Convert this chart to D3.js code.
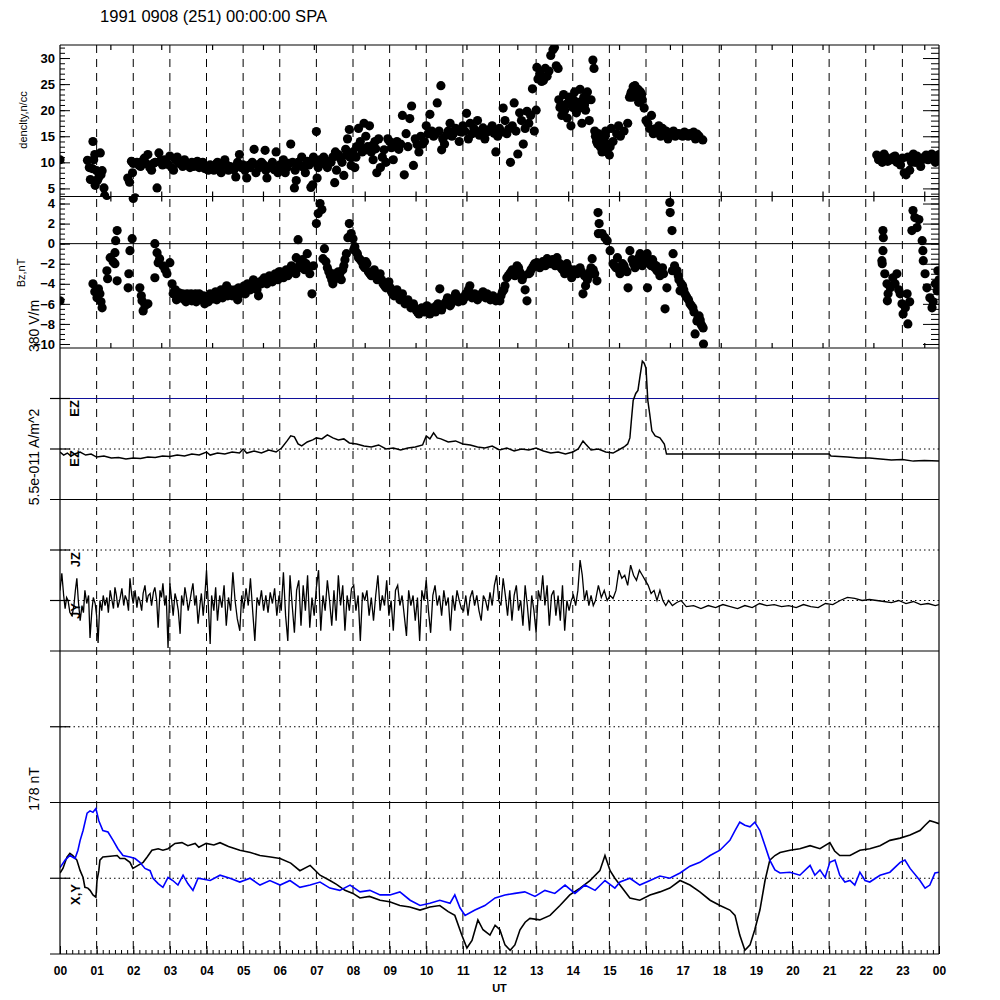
<!DOCTYPE html>
<html>
<head>
<meta charset="utf-8">
<script src="https://cdn.jsdelivr.net/npm/d3@7"></script>
<style>
  body { margin: 0; background: #fff; }
  text { font-family: "Liberation Sans", Arial, sans-serif; }
</style>
</head>
<body>
<svg id="chart" width="1000" height="1000"></svg>
<script>
// ---- data (hours UT, value) ----
const title = "1991 0908 (251) 00:00:00 SPA";
const hourLabels = ["00","01","02","03","04","05","06","07","08","09","10","11",
                    "12","13","14","15","16","17","18","19","20","21","22","23","00"];
const densityTicks = [5, 10, 15, 20, 25, 30];
const bzTicks = [4, 2, 0, -2, -4, -6, -8, -10];

const density = [
  [0.00,10.5],[0.75,10.4],[0.80,9.0],[0.83,6.7],[0.88,8.8],[0.90,14.0],[0.92,10.5],[0.95,11.5],[0.96,5.6],[1.00,8.4],[1.02,6.5],[1.05,7.0],[1.10,11.8],[1.12,7.6],[1.15,8.4],[1.20,5.1],[1.22,3.6],
  [1.85,7.0],[1.90,6.2],[1.95,10.2],[1.98,8.0],[2.00,9.8],[2.05,3.2],
  [2.10,10.0],[2.20,9.2],[2.30,10.8],[2.40,11.5],[2.45,9.0],[2.50,8.5],[2.60,10.0],[2.65,5.1],[2.70,11.8],[2.80,9.5],[2.85,10.5],[2.90,10.0],[3.00,11.2],[3.05,9.0],[3.10,8.5],[3.15,10.5],[3.20,11.0],[3.30,10.0],[3.35,9.2],[3.40,10.5],[3.50,9.5],[3.55,9.0],[3.60,10.0],[3.70,9.5],[3.80,9.0],[3.90,10.0],
  [2.15,9.5],[2.25,10.2],[2.35,9.8],[2.55,9.8],[2.75,10.4],[2.95,9.6],[3.25,9.8],[3.45,9.8],[3.65,9.2],[3.75,10.2],[3.85,9.4],[3.95,8.8],
  [4.00,9.0],[4.05,8.5],[4.10,9.5],[4.20,8.5],[4.30,10.0],[4.35,9.0],[4.40,8.0],[4.50,10.5],[4.55,9.5],[4.60,8.5],[4.70,9.0],[4.80,7.2],[4.85,10.0],[4.90,11.5],[5.00,9.5],[5.05,8.5],[5.10,7.0],[5.20,9.0],[5.25,10.0],[5.30,12.5],[5.35,8.0],[5.40,9.5],[5.50,10.0],[5.60,12.3],[5.62,8.5],[5.65,7.0],[5.70,9.0],[5.80,10.0],[5.90,12.0],[5.95,8.0],
  [4.15,9.2],[4.25,9.6],[4.45,9.4],[4.65,9.2],[4.75,8.6],[4.95,9.0],[5.15,9.4],[5.45,9.0],[5.55,9.6],[5.75,9.4],[5.85,8.6],
  [6.00,9.5],[6.10,10.5],[6.15,8.0],[6.20,9.0],[6.30,13.5],[6.35,10.0],[6.40,5.1],[6.42,8.5],[6.45,6.5],[6.50,10.0],[6.60,11.0],[6.70,8.0],[6.80,9.5],[6.85,5.2],[6.90,5.7],[6.92,11.0],[6.95,10.0],[7.00,15.9],[7.02,7.0],[7.05,9.0],[7.10,10.5],[7.20,11.0],[7.30,9.0],[7.40,10.0],[7.50,6.1],[7.52,12.0],[7.55,8.5],[7.60,11.5],[7.70,10.0],[7.75,7.5],[7.80,12.5],[7.85,14.5],[7.90,16.3],[7.92,11.0],[7.95,9.4],
  [6.05,9.2],[6.25,9.8],[6.55,9.4],[6.65,9.0],[6.75,10.2],[7.15,9.8],[7.25,10.4],[7.35,10.0],[7.45,11.0],[7.65,10.8],[7.82,11.4],
  [8.00,12.0],[8.05,9.0],[8.10,13.0],[8.15,16.5],[8.20,14.0],[8.25,12.0],[8.30,17.5],[8.35,15.0],[8.40,13.0],[8.45,17.0],[8.50,12.0],[8.55,10.5],[8.60,14.0],[8.65,8.0],[8.70,14.5],[8.75,9.0],[8.80,11.0],[8.90,10.0],[8.95,14.5],[9.00,14.0],[9.10,10.5],[9.20,14.0],[9.25,12.5],[9.30,13.5],[9.35,19.0],[9.40,7.6],[9.45,15.5],[9.50,13.0],[9.55,18.4],[9.60,20.8],[9.65,9.4],[9.70,14.5],[9.80,12.0],[9.85,15.0],[9.90,13.5],
  [8.08,11.0],[8.22,12.8],[8.38,12.4],[8.52,13.2],[8.62,12.6],[8.85,12.4],[9.05,12.8],[9.15,13.0],[9.75,13.4],[9.95,14.0],
  [10.00,17.0],[10.05,15.5],[10.10,19.2],[10.15,16.0],[10.20,15.0],[10.30,21.4],[10.35,16.0],[10.40,24.7],[10.42,12.4],[10.45,14.5],[10.50,13.5],[10.60,16.0],[10.65,17.5],[10.70,15.0],[10.80,16.5],[10.90,14.0],[11.00,17.0],[11.05,16.0],[11.10,19.4],[11.15,14.5],[11.20,17.5],[11.25,15.5],[11.30,16.5],[11.40,18.0],[11.50,16.0],[11.60,14.5],[11.70,16.0],[11.80,17.0],[11.90,12.0],[11.95,15.0],
  [10.25,15.4],[10.55,15.2],[10.75,15.6],[10.95,15.8],[11.35,16.0],[11.45,15.2],[11.55,16.6],[11.65,15.8],[11.75,16.4],[11.85,15.6],
  [12.00,16.5],[12.10,20.4],[12.15,18.0],[12.20,15.5],[12.30,10.0],[12.35,17.0],[12.40,21.4],[12.45,16.0],[12.50,11.6],[12.55,19.5],[12.60,18.0],[12.65,13.5],[12.70,16.5],[12.75,19.8],[12.80,17.5],[12.85,19.0],[12.90,24.1],[12.95,16.0],[13.00,20.0],[13.02,28.2],[13.05,26.0],[13.10,27.0],[13.15,25.5],[13.20,25.7],[13.25,28.0],[13.30,26.5],[13.35,27.5],[13.40,30.5],[13.46,31.6],[13.50,32.0],[13.55,28.5],[13.60,28.0],
  [12.05,15.8],[12.25,16.4],
  [13.62,22.0],[13.65,20.5],[13.70,19.0],[13.75,23.0],[13.80,21.0],[13.85,18.5],[13.90,22.5],[13.95,17.0],[14.00,20.5],[14.05,23.5],[14.10,19.5],[14.15,21.5],[14.20,24.0],[14.25,17.5],[14.30,22.5],[14.35,20.0],[14.40,23.5],[14.45,18.0],[14.50,22.0],[14.55,29.6],[14.58,28.0],
  [13.68,21.0],[13.78,20.0],[13.88,21.5],[14.02,22.0],[14.12,21.0],[14.22,20.5],[14.32,21.0],[14.42,22.0],
  [14.60,16.0],[14.65,14.0],[14.70,15.5],[14.75,13.0],[14.80,12.0],[14.85,14.5],[14.90,16.0],[14.95,13.5],[15.00,11.4],[15.05,16.5],[15.10,14.0],[15.20,15.5],[15.25,17.0],[15.30,15.0],[15.40,16.0],[15.50,17.5],[15.55,22.5],[15.60,23.5],[15.65,24.5],[15.70,24.7],[15.75,23.0],[15.80,21.5],[15.85,23.5],[15.90,22.0],[15.95,20.4],
  [14.62,15.0],[14.68,13.5],[14.72,14.5],[14.78,12.8],[14.82,13.8],[14.88,15.0],[14.92,12.5],[15.02,13.0],
  [15.58,23.0],[15.62,22.5],[15.68,23.8],[15.72,22.6],[15.78,24.0],[15.82,22.8],[15.88,23.0],
  [16.00,18.0],[16.05,17.5],[16.10,16.5],[16.15,19.0],[16.20,15.5],[16.30,16.0],[16.35,17.0],[16.40,15.0],[16.45,16.5],[16.50,15.5],[16.55,16.0],[16.60,14.5],[16.70,15.5],[16.80,15.0],[16.90,15.5],[17.00,15.0],[17.10,15.5],[17.20,15.5],[17.30,15.8],[17.35,14.5],[17.45,15.0],[17.55,14.3],
  [16.25,16.4],[16.65,15.6],[16.75,16.0],[16.85,15.4],[16.95,15.2],[17.05,15.8],[17.15,15.0],[17.25,15.2],[17.40,15.4],
  [22.30,11.4],[22.35,10.5],[22.45,10.0],[22.55,11.0],[22.60,10.2],[22.70,10.5],[22.80,11.2],[22.85,10.0],[22.95,9.5],[23.00,10.8],[23.05,8.0],[23.10,7.6],[23.15,11.0],[23.20,8.5],[23.30,11.6],[23.35,10.0],[23.45,10.4],[23.50,9.2],[23.60,11.0],[23.70,10.5],[23.80,11.6],[23.90,10.0],[24.00,11.5],
  [22.40,11.0],[22.50,11.6],[22.65,10.6],[22.75,11.0],[22.90,10.4],[23.25,10.0],[23.40,11.2],[23.55,10.6],[23.65,11.4],[23.75,11.0],[23.85,10.8],[23.95,11.2]
];

const bz = [
  [0.00,-5.7],
  [0.90,-4.0],[0.95,-4.8],[1.01,-5.4],[1.05,-4.5],[1.09,-5.0],[1.12,-5.8],[1.15,-6.4],[1.28,-2.7],[1.30,-3.5],[1.37,-1.4],[1.45,-1.8],[1.50,-0.9],[1.52,0.3],[1.56,1.3],[1.50,-2.0],[1.56,-3.7],[1.28,4.8],
  [1.86,-4.4],[1.88,-3.0],[1.91,-0.7],[1.97,0.5],[2.00,4.5],
  [2.18,-4.4],[2.22,-5.2],[2.24,-5.7],[2.27,-6.7],[2.32,-6.2],[2.40,-6.0],
  [2.59,0.0],[2.65,-0.9],[2.68,-1.9],[2.59,-3.4],[2.72,-1.5],[2.81,-2.2],[2.87,-2.6],[2.92,-3.0],[3.00,-1.9],[3.06,-4.0],[3.09,-5.0],[3.15,-4.6],[3.22,-5.2],[3.28,-5.4],[3.35,-5.0],[3.40,-5.6],[3.47,-5.0],[3.55,-5.4],[3.60,-5.7],[3.66,-5.2],[3.72,-5.8],[3.80,-5.0],[3.88,-5.6],[3.95,-6.0],
  [3.12,-4.8],[3.18,-5.6],[3.25,-4.9],[3.32,-5.4],[3.38,-5.2],[3.44,-5.8],[3.52,-5.2],[3.58,-5.0],[3.63,-5.5],[3.70,-5.0],[3.76,-5.4],[3.84,-5.3],[3.92,-5.2],[3.98,-5.6],
  [4.02,-5.4],[4.10,-5.0],[4.18,-5.5],[4.25,-4.8],[4.32,-5.3],[4.40,-4.6],[4.48,-5.0],[4.55,-4.2],[4.62,-4.8],[4.70,-5.2],[4.78,-4.6],[4.85,-5.6],[4.92,-5.0],[5.00,-4.4],[5.06,-5.0],[5.12,-4.0],[5.20,-4.6],[5.28,-3.6],[5.35,-4.2],[5.42,-5.2],[5.50,-4.0],[5.58,-3.4],[5.65,-4.0],[5.72,-3.2],[5.80,-3.8],[5.88,-3.0],[5.95,-3.6],
  [4.05,-5.8],[4.14,-5.4],[4.22,-5.0],[4.28,-5.6],[4.36,-5.0],[4.44,-5.4],[4.52,-4.8],[4.58,-5.2],[4.66,-4.6],[4.74,-5.0],[4.82,-5.0],[4.88,-4.4],[4.96,-4.8],[5.03,-4.2],[5.09,-4.6],[5.16,-4.4],[5.24,-4.0],[5.32,-3.8],[5.38,-4.6],[5.46,-3.8],[5.54,-3.6],[5.62,-3.8],[5.68,-3.4],[5.76,-3.6],[5.84,-3.2],[5.92,-3.4],[5.98,-2.8],
  [6.02,-2.8],[6.10,-3.4],[6.18,-2.6],[6.25,-3.0],[6.32,-2.2],[6.40,-2.8],[6.45,-1.4],[6.50,0.4],[6.55,-2.0],[6.62,-1.6],[6.68,-2.6],[6.75,-1.0],[6.82,-3.0],[6.88,-5.0],[6.92,-2.2],[7.00,2.0],[7.05,3.0],[7.10,4.0],[7.15,3.4],[7.18,-1.5],[7.22,-0.5],[7.30,-2.4],[7.38,-3.2],[7.45,-4.0],[7.52,-3.5],[7.60,-2.8],[7.68,-3.6],[7.75,-2.2],[7.82,-1.0],[7.90,2.0],[7.95,1.0],
  [6.06,-3.0],[6.14,-2.8],[6.22,-3.2],[6.28,-2.6],[6.36,-2.4],[6.44,-3.0],[6.58,-2.4],[6.66,-2.0],[6.72,-2.0],[6.78,-2.4],[7.26,-1.8],[7.34,-2.8],[7.42,-3.6],[7.48,-3.0],[7.56,-3.2],[7.64,-3.0],[7.72,-2.6],[7.78,-1.6],[7.86,0.6],
  [8.00,0.5],[8.05,-0.3],[8.12,-1.0],[8.20,-1.6],[8.28,-2.2],[8.35,-1.8],[8.42,-2.8],[8.50,-3.2],[8.58,-2.6],[8.66,-3.6],[8.74,-3.0],[8.82,-4.0],[8.90,-4.4],[8.98,-3.8],[9.05,-4.8],[9.12,-5.2],[9.20,-4.6],[9.28,-5.6],[9.35,-5.0],[9.42,-6.0],[9.50,-5.6],[9.58,-6.4],[9.65,-6.0],[9.72,-6.6],[9.80,-7.0],[9.88,-6.4],[9.95,-6.8],
  [8.02,-0.6],[8.08,-0.8],[8.15,-1.4],[8.24,-1.8],[8.32,-2.4],[8.38,-2.0],[8.46,-3.0],[8.54,-2.8],[8.62,-3.2],[8.70,-3.4],[8.78,-3.6],[8.86,-4.2],[8.94,-4.0],[9.02,-4.4],[9.08,-5.0],[9.16,-4.8],[9.24,-5.2],[9.32,-5.4],[9.38,-5.6],[9.46,-5.8],[9.54,-6.0],[9.62,-6.2],[9.68,-6.4],[9.76,-6.8],[9.84,-6.6],[9.92,-6.6],[9.98,-6.4],
  [10.02,-6.2],[10.10,-7.0],[10.18,-6.4],[10.25,-6.8],[10.32,-6.0],[10.37,-4.5],[10.42,-6.6],[10.50,-6.0],[10.58,-5.4],[10.65,-6.2],[10.72,-5.6],[10.80,-5.0],[10.88,-5.8],[10.95,-5.4],[11.00,-5.7],[11.08,-5.0],[11.15,-4.6],[11.19,-4.2],[11.25,-5.4],[11.32,-5.0],[11.40,-5.6],[11.48,-5.2],[11.55,-4.8],[11.62,-5.4],[11.66,-5.0],[11.75,-5.6],[11.82,-5.2],[11.90,-5.7],
  [10.06,-6.6],[10.14,-6.8],[10.22,-6.6],[10.28,-6.2],[10.46,-6.2],[10.54,-5.8],[10.62,-5.8],[10.68,-6.0],[10.76,-5.4],[10.84,-5.6],[10.92,-5.6],[11.04,-5.4],[11.12,-5.2],[11.22,-5.0],[11.28,-5.2],[11.36,-5.4],[11.44,-5.2],[11.52,-5.0],[11.58,-5.2],[11.70,-5.4],[11.78,-5.4],[11.86,-5.4],[11.95,-5.5],
  [12.01,-5.7],[12.08,-4.8],[12.15,-4.2],[12.20,-3.4],[12.28,-3.0],[12.35,-2.6],[12.42,-3.2],[12.48,-2.2],[12.55,-2.8],[12.62,-3.6],[12.70,-4.6],[12.75,-5.7],[12.80,-3.0],[12.83,-2.9],[12.90,-2.4],[12.96,-2.0],[13.02,-1.9],[13.10,-2.4],[13.18,-1.8],[13.25,-2.2],[13.30,-1.5],[13.38,-2.0],[13.45,-1.6],[13.52,-2.2],[13.57,-1.4],[13.65,-2.0],[13.72,-2.6],[13.78,-3.0],[13.84,-2.0],[13.90,-2.8],[13.97,-3.4],
  [12.04,-5.2],[12.12,-4.6],[12.24,-3.2],[12.32,-2.8],[12.38,-2.8],[12.45,-2.6],[12.52,-2.4],[12.58,-3.0],[12.66,-3.2],[12.86,-2.6],[12.93,-2.2],[12.99,-2.2],[13.06,-2.0],[13.14,-2.2],[13.22,-2.0],[13.28,-1.8],[13.34,-1.8],[13.42,-1.8],[13.48,-2.0],[13.55,-1.8],[13.60,-2.2],[13.68,-2.4],[13.75,-2.2],[13.81,-2.4],[13.87,-2.4],[13.94,-2.6],
  [14.05,-2.6],[14.12,-3.0],[14.20,-2.4],[14.28,-5.0],[14.35,-4.2],[14.40,-3.6],[14.47,-2.8],[14.53,-1.5],[14.60,-3.0],[14.66,-3.7],[14.69,3.1],[14.72,2.0],[14.70,1.0],[14.80,1.0],[14.88,0.6],[14.94,0.3],[15.02,-0.7],[15.10,-2.0],[15.18,-2.4],[15.22,-1.4],[15.29,-3.0],[15.36,-2.0],[15.44,-2.6],[15.51,-4.4],[15.56,-0.7],[15.62,-1.6],[15.70,-2.4],[15.77,-1.8],[15.84,-1.0],[15.90,-2.2],[15.96,-1.4],
  [14.00,-3.0],[14.08,-2.8],[14.16,-2.6],[14.24,-2.8],[14.32,-3.2],[14.44,-3.2],[14.50,-2.4],[14.56,-2.6],[15.14,-2.2],[15.26,-2.6],[15.32,-2.4],[15.40,-2.2],[15.48,-2.8],[15.66,-2.0],[15.74,-2.0],[15.80,-1.4],[15.87,-1.8],[15.93,-1.8],
  [16.03,-1.0],[16.04,-4.4],[16.10,-2.0],[16.18,-1.6],[16.24,-2.4],[16.30,-2.7],[16.38,-3.2],[16.45,-2.4],[16.52,-6.5],[16.57,-4.4],[16.65,4.1],[16.66,3.1],[16.71,1.3],[16.74,-1.0],[16.72,-2.7],[16.78,-2.2],[16.85,-2.7],[16.90,-3.6],[16.93,-4.7],[17.00,-4.2],[17.06,-5.0],[17.12,-5.4],[17.20,-6.0],[17.28,-6.4],[17.34,-9.0],[17.39,-7.7],[17.45,-7.2],[17.50,-8.0],[17.56,-8.4],[17.57,-10.0],
  [16.00,-1.6],[16.07,-1.8],[16.14,-2.2],[16.21,-2.0],[16.28,-2.2],[16.34,-2.8],[16.41,-2.8],[16.48,-3.0],[16.81,-2.6],[16.88,-3.2],[16.96,-4.0],[17.03,-4.6],[17.09,-5.2],[17.16,-5.6],[17.24,-6.2],[17.31,-6.8],[17.42,-7.4],[17.48,-7.6],[17.53,-8.2],
  [22.44,-1.7],[22.45,-2.0],[22.47,1.3],[22.48,0.6],[22.47,-0.7],[22.52,-3.0],[22.58,-4.0],[22.59,-5.7],[22.61,-5.0],[22.67,-4.4],[22.74,-3.4],[22.80,-4.0],[22.85,-3.0],[22.90,-4.6],[22.94,-5.0],[22.99,-6.0],[23.02,-7.0],[23.08,-6.4],[23.13,-5.0],[23.15,-8.0],[23.20,-5.8],
  [23.26,1.3],[23.29,3.3],[23.34,2.6],[23.40,1.6],[23.45,2.4],[23.54,0.3],[23.56,-0.7],[23.57,-1.7],[23.62,-3.0],[23.67,-4.4],[23.75,-5.4],[23.81,-6.4],[23.84,-5.8],[23.90,-4.0],[23.95,-4.7],[23.97,-2.7],[24.00,-3.6]
];

// EZ, in units of one scale step (380 V/m)
const ez = [
  [0.00,-0.06],[0.10,-0.12],[0.20,-0.08],[0.30,-0.14],[0.40,-0.10],[0.55,-0.06],[0.70,-0.12],[0.85,-0.10],[1.00,-0.16],[1.20,-0.14],[1.40,-0.18],[1.60,-0.17],[1.80,-0.20],
  [2.00,-0.18],[2.20,-0.19],[2.40,-0.16],[2.60,-0.17],[2.80,-0.14],[3.00,-0.15],[3.20,-0.12],[3.40,-0.14],[3.60,-0.10],[3.80,-0.12],[4.00,-0.06],[4.10,-0.12],[4.30,-0.08],[4.50,-0.10],[4.70,-0.06],[4.90,-0.08],
  [5.00,0.00],[5.10,-0.08],[5.30,-0.04],[5.50,-0.08],[5.70,-0.02],[5.90,-0.06],[6.05,0.02],[6.20,0.16],[6.30,0.26],[6.40,0.24],[6.50,0.10],[6.60,0.06],[6.75,0.14],[6.90,0.18],
  [7.00,0.22],[7.15,0.20],[7.30,0.28],[7.45,0.22],[7.60,0.18],[7.75,0.20],[7.90,0.12],[8.10,0.10],[8.30,0.06],[8.50,0.04],[8.70,0.08],[8.90,0.00],[9.10,0.02],[9.30,-0.02],[9.50,0.02],[9.70,0.04],[9.90,0.08],
  [10.00,0.26],[10.10,0.20],[10.20,0.32],[10.30,0.22],[10.40,0.20],[10.60,0.14],[10.80,0.16],[11.00,0.10],[11.20,0.08],[11.40,0.04],[11.60,0.02],[11.80,0.06],[12.00,-0.02],[12.20,0.02],[12.40,-0.04],[12.60,0.00],[12.80,-0.02],
  [13.00,0.02],[13.20,-0.04],[13.40,-0.08],[13.60,-0.06],[13.80,-0.10],[14.00,-0.06],[14.15,0.00],[14.28,0.16],[14.35,0.10],[14.50,-0.02],[14.70,0.00],[14.90,-0.06],[15.10,-0.08],[15.25,-0.02],[15.40,0.04],[15.50,0.10],
  [15.56,0.22],[15.60,0.56],[15.65,0.96],[15.72,1.10],[15.78,1.16],[15.84,1.46],[15.90,1.74],[15.95,1.70],[16.00,1.60],[16.05,0.96],[16.10,0.70],[16.16,0.36],[16.25,0.26],[16.38,0.22],[16.50,0.10],[16.56,-0.10],
  [21.00,-0.10],[21.05,-0.14],[21.50,-0.16],[21.80,-0.18],[22.10,-0.18],[22.40,-0.20],[22.70,-0.22],[23.00,-0.21],[23.30,-0.24],[23.60,-0.23],[24.00,-0.24]
];
const ezBlue = [[0, 1], [24, 1]];

// JZ, in units of one scale step (5.5e-011 A/m^2)
const jz = [
  [0.00,0.20],[0.05,0.54],[0.10,0.10],[0.14,-0.16],[0.18,0.06],[0.22,0.00],[0.27,-0.24],[0.33,-0.30],[0.38,-0.10],[0.42,0.20],[0.46,0.44],[0.50,0.00],[0.55,-0.40],[0.60,-0.10],[0.64,-0.24],[0.68,0.20],[0.73,-0.06],[0.78,0.10],[0.82,-0.74],[0.87,-0.20],[0.91,0.06],[0.96,-0.06],
  [1.00,-0.30],[1.04,-0.84],[1.09,0.00],[1.14,-0.20],[1.18,0.10],[1.23,-0.10],[1.28,0.06],[1.32,-0.24],[1.37,0.20],[1.42,0.00],[1.46,-0.16],[1.50,0.26],[1.54,0.10],[1.58,-0.14],[1.64,0.04],[1.69,0.24],[1.74,-0.10],[1.78,0.10],[1.83,0.00],[1.87,-0.20],[1.91,0.44],[1.96,0.10],
  [2.00,-0.06],[2.05,0.20],[2.10,-0.14],[2.14,0.08],[2.18,0.00],[2.23,-0.20],[2.27,0.14],[2.32,0.30],[2.37,-0.04],[2.41,0.10],[2.46,0.14],[2.50,-0.10],[2.55,0.16],[2.59,0.26],[2.64,0.00],[2.68,-0.54],[2.73,0.20],[2.77,0.06],[2.81,0.34],[2.86,-0.10],[2.90,0.10],[2.95,-0.94],
  [3.00,0.34],[3.05,0.00],[3.09,-0.30],[3.14,0.14],[3.18,0.02],[3.23,-0.20],[3.28,-0.66],[3.32,0.10],[3.37,-0.10],[3.41,0.26],[3.46,0.04],[3.50,-0.20],[3.55,0.00],[3.59,0.18],[3.63,0.34],[3.68,-0.10],[3.72,0.10],[3.77,-0.46],[3.82,-0.10],[3.86,0.14],[3.91,-0.30],[3.95,0.04],
  [4.00,0.60],[4.05,-0.10],[4.10,-0.86],[4.14,0.10],[4.20,-0.20],[4.25,0.26],[4.30,-0.40],[4.36,0.10],[4.42,-0.14],[4.48,0.30],[4.54,-0.50],[4.60,0.06],[4.66,-0.20],[4.72,0.56],[4.78,0.00],[4.84,-0.36],[4.91,-0.60],[4.96,0.10],
  [5.02,-0.16],[5.08,0.24],[5.14,-0.10],[5.20,0.44],[5.26,-0.20],[5.32,-0.80],[5.38,0.06],[5.44,-0.10],[5.50,0.20],[5.56,-0.20],[5.62,0.10],[5.68,-0.24],[5.74,0.16],[5.80,-0.06],[5.86,0.24],[5.92,-0.30],[5.98,0.10],
  [6.04,-0.20],[6.10,0.56],[6.16,-0.30],[6.22,-0.80],[6.28,0.50],[6.34,-0.10],[6.40,-0.64],[6.46,0.20],[6.52,0.40],[6.58,-0.50],[6.64,0.30],[6.70,-0.20],[6.76,0.50],[6.82,-0.54],[6.88,0.06],[6.94,-0.30],
  [7.00,0.26],[7.06,0.60],[7.12,-0.60],[7.18,0.10],[7.24,-0.20],[7.30,0.40],[7.36,0.00],[7.42,-0.50],[7.48,0.20],[7.54,-0.40],[7.60,0.50],[7.66,-0.10],[7.72,0.30],[7.78,-0.60],[7.84,0.10],[7.90,-0.20],[7.96,0.24],
  [8.02,0.30],[8.08,-0.20],[8.14,0.10],[8.20,-0.80],[8.26,0.16],[8.32,0.00],[8.38,0.20],[8.44,-0.30],[8.50,0.06],[8.56,-0.40],[8.62,0.10],[8.68,0.50],[8.74,-0.20],[8.80,0.10],[8.86,-0.10],[8.92,0.40],[8.98,-0.30],
  [9.04,0.00],[9.10,-0.60],[9.16,0.20],[9.22,0.30],[9.28,-0.10],[9.34,0.10],[9.40,-0.30],[9.46,-0.70],[9.52,0.20],[9.58,-0.10],[9.64,0.10],[9.70,-0.40],[9.76,0.06],[9.82,-0.80],[9.88,0.20],[9.94,0.00],
  [10.00,0.40],[10.06,-0.20],[10.12,-0.64],[10.18,0.10],[10.24,0.30],[10.30,-0.10],[10.36,0.10],[10.42,-0.30],[10.48,0.20],[10.54,-0.10],[10.60,0.06],[10.66,-0.60],[10.72,0.10],[10.78,-0.20],[10.84,0.20],[10.90,0.00],[10.96,-0.16],
  [11.02,-0.20],[11.08,0.10],[11.14,-0.30],[11.20,0.06],[11.26,0.20],[11.32,-0.10],[11.38,0.10],[11.44,-0.20],[11.50,-0.40],[11.56,0.10],[11.62,0.00],[11.68,-0.20],[11.74,0.16],[11.80,-0.10],[11.86,0.30],[11.92,0.50],[11.98,0.00],
  [12.04,-0.10],[12.10,0.44],[12.16,0.10],[12.22,-0.30],[12.28,0.20],[12.34,-0.40],[12.40,0.10],[12.46,0.30],[12.52,-0.20],[12.58,0.00],[12.64,-0.50],[12.70,0.30],[12.76,-0.10],[12.82,-0.60],[12.88,0.10],[12.94,-0.20],
  [13.00,-0.64],[13.06,0.20],[13.12,0.00],[13.18,0.50],[13.24,-0.10],[13.30,0.30],[13.36,-0.50],[13.42,0.10],[13.48,0.20],[13.54,-0.30],[13.60,0.10],[13.66,-0.40],[13.72,0.30],[13.78,-0.60],[13.84,0.00],[13.90,-0.20],[13.96,0.00],
  [14.02,0.10],[14.08,-0.10],[14.14,0.20],[14.20,0.80],[14.26,0.50],[14.32,0.00],[14.38,0.20],[14.44,-0.10],[14.50,0.10],[14.56,-0.10],[14.62,0.00],[14.70,0.30],[14.78,0.06],[14.86,0.20],[14.94,0.00],
  [15.02,0.10],[15.10,0.04],[15.18,0.20],[15.26,0.60],[15.34,0.44],[15.42,0.50],[15.50,0.30],[15.58,0.70],[15.66,0.50],[15.74,0.40],[15.82,0.60],[15.90,0.50],[15.98,0.40],
  [16.06,0.30],[16.14,0.14],[16.22,0.20],[16.30,0.00],[16.38,0.20],[16.46,0.00],[16.54,-0.10],[16.62,0.00],[16.72,-0.10],[16.84,-0.04],[16.96,0.00],
  [17.10,-0.12],[17.30,-0.10],[17.50,-0.16],[17.70,-0.10],[17.90,-0.14],[18.10,-0.08],[18.30,-0.12],[18.50,-0.16],[18.70,-0.10],[18.90,-0.14],[19.10,-0.06],[19.30,-0.10],[19.50,-0.08],[19.70,-0.12],[19.90,-0.10],
  [20.10,-0.14],[20.30,-0.08],[20.50,-0.12],[20.70,-0.14],[20.90,-0.06],[21.10,-0.08],[21.30,0.00],[21.50,0.06],[21.70,0.04],[21.90,0.00],[22.10,0.02],[22.30,0.00],[22.50,-0.02],[22.70,-0.04],[22.90,0.00],
  [23.10,-0.06],[23.30,-0.02],[23.50,-0.08],[23.70,-0.06],[23.90,-0.10],[24.00,-0.08]
];

// X (black) and Y (blue), in units of half scale (178 nT)
const bx = [
  [0.00,0.07],[0.08,0.13],[0.19,0.28],[0.27,0.33],[0.35,0.30],[0.46,0.24],[0.55,0.10],[0.63,0.01],[0.68,-0.12],[0.76,-0.13],[0.82,-0.16],[0.90,-0.22],[0.98,-0.25],[1.01,-0.03],[1.06,0.10],[1.09,0.24],[1.17,0.28],[1.37,0.29],[1.56,0.30],[1.64,0.26],[1.77,0.26],[1.91,0.21],[1.99,0.13],
  [2.13,0.17],[2.27,0.21],[2.38,0.28],[2.51,0.37],[2.68,0.39],[2.81,0.37],[2.95,0.39],[3.14,0.46],[3.33,0.47],[3.49,0.43],[3.69,0.46],[3.79,0.41],[3.99,0.46],[4.20,0.44],[4.37,0.47],[4.60,0.42],[4.91,0.37],[5.20,0.34],[5.46,0.30],[5.75,0.28],
  [6.01,0.26],[6.30,0.20],[6.55,0.10],[6.83,0.17],[7.10,0.04],[7.37,-0.03],[7.55,-0.08],[7.78,-0.16],[8.00,-0.20],[8.19,-0.26],[8.45,-0.24],[8.74,-0.29],[9.00,-0.31],[9.28,-0.36],[9.55,-0.38],[9.83,-0.42],[10.10,-0.38],[10.37,-0.36],[10.60,-0.44],[10.78,-0.49],
  [10.97,-0.75],[11.11,-0.92],[11.25,-0.82],[11.41,-0.55],[11.55,-0.68],[11.74,-0.75],[11.88,-0.62],[12.01,-0.68],[12.15,-0.88],[12.29,-0.95],[12.42,-0.88],[12.56,-0.68],[12.70,-0.58],[12.83,-0.53],[13.10,-0.55],[13.38,-0.49],[13.65,-0.36],[13.92,-0.22],
  [14.20,-0.13],[14.47,-0.03],[14.74,0.10],[14.88,0.30],[15.02,0.10],[15.15,0.00],[15.29,-0.09],[15.56,-0.26],[15.83,-0.29],[16.11,-0.22],[16.38,-0.18],[16.65,-0.13],[16.93,-0.03],[17.20,-0.09],[17.47,-0.18],[17.75,-0.29],[18.02,-0.36],[18.29,-0.42],[18.43,-0.49],
  [18.56,-0.75],[18.70,-0.95],[18.84,-0.88],[18.97,-0.68],[19.11,-0.42],[19.25,-0.03],[19.38,0.24],[19.52,0.30],[19.66,0.34],[19.93,0.37],[20.20,0.39],[20.48,0.43],[20.75,0.39],[21.02,0.47],[21.15,0.36],[21.29,0.30],[21.57,0.30],[21.84,0.37],
  [22.11,0.39],[22.39,0.43],[22.66,0.50],[22.94,0.53],[23.21,0.57],[23.48,0.63],[23.62,0.70],[23.75,0.76],[23.89,0.74],[24.00,0.72]
];
const by = [
  [0.00,0.14],[0.14,0.24],[0.27,0.30],[0.41,0.26],[0.49,0.37],[0.55,0.50],[0.63,0.63],[0.74,0.86],[0.82,0.89],[0.90,0.87],[0.98,0.92],[1.06,0.76],[1.17,0.63],[1.31,0.61],[1.45,0.50],[1.58,0.39],[1.72,0.30],[1.91,0.28],
  [2.05,0.26],[2.18,0.21],[2.32,0.13],[2.46,0.10],[2.54,0.00],[2.68,-0.07],[2.81,-0.12],[2.95,0.01],[3.08,-0.03],[3.22,-0.09],[3.36,0.04],[3.49,-0.07],[3.63,-0.16],[3.77,0.00],[4.10,-0.03],[4.37,0.04],[4.64,0.00],[4.91,-0.05],
  [5.19,0.00],[5.46,-0.09],[5.73,-0.03],[6.01,-0.09],[6.28,-0.03],[6.55,-0.12],[6.83,-0.09],[7.10,-0.05],[7.37,-0.13],[7.64,-0.16],[7.92,-0.09],[8.19,-0.18],[8.46,-0.16],[8.74,-0.22],[9.01,-0.22],[9.28,-0.18],[9.56,-0.29],[9.83,-0.36],
  [10.10,-0.33],[10.37,-0.29],[10.65,-0.33],[10.78,-0.22],[10.92,-0.39],[11.06,-0.49],[11.33,-0.42],[11.60,-0.36],[11.88,-0.26],[12.15,-0.22],[12.42,-0.20],[12.69,-0.18],[12.97,-0.24],[13.24,-0.16],[13.51,-0.20],[13.79,-0.09],
  [14.06,-0.20],[14.33,-0.09],[14.61,-0.16],[14.88,-0.03],[15.15,-0.13],[15.29,-0.05],[15.56,0.00],[15.83,-0.09],[16.11,-0.03],[16.38,0.03],[16.65,0.00],[16.93,0.07],[17.20,0.16],[17.47,0.21],[17.75,0.30],[18.02,0.37],[18.29,0.50],[18.43,0.63],
  [18.56,0.74],[18.70,0.70],[18.84,0.68],[18.97,0.74],[19.11,0.63],[19.25,0.43],[19.38,0.24],[19.52,0.11],[19.66,0.07],[19.93,0.08],[20.20,0.04],[20.48,0.17],[20.61,0.04],[20.75,0.11],[20.89,0.01],[21.02,0.21],[21.16,0.24],[21.29,0.04],
  [21.43,-0.05],[21.57,-0.03],[21.70,-0.09],[21.84,0.08],[21.98,-0.03],[22.11,-0.05],[22.39,0.04],[22.66,0.08],[22.94,0.21],[23.07,0.24],[23.21,0.13],[23.48,-0.03],[23.62,-0.13],[23.75,-0.09],[23.89,0.07],[24.00,0.08]
];

// ---- layout ----
const svg = d3.select("#chart");
const left = 60, right = 939, top0 = 45, ph = 151.5;
const panelTop = i => top0 + i * ph;

const x = d3.scaleLinear().domain([0, 24]).range([left, right]);
const y1 = d3.scaleLinear().domain([3.45, 32.5]).range([panelTop(1), panelTop(0)]);
const y2 = d3.scaleLinear().domain([-10.4, 4.7]).range([panelTop(2), panelTop(1)]);
const y3 = d3.scaleLinear().domain([-1, 2]).range([panelTop(3), panelTop(2)]);
const y4 = d3.scaleLinear().domain([-1, 2]).range([panelTop(4), panelTop(3)]);
const y5 = d3.scaleLinear().domain([-1, 1]).range([panelTop(5), panelTop(4)]);
const y6 = d3.scaleLinear().domain([-1, 1]).range([panelTop(6), panelTop(5)]);

svg.append("rect").attr("width", 1000).attr("height", 1000).attr("fill", "#fff");

// clip paths, one per panel
const defs = svg.append("defs");
for (let i = 0; i < 6; i++) {
  defs.append("clipPath").attr("id", "clip" + i)
    .append("rect").attr("x", left).attr("y", panelTop(i))
    .attr("width", right - left).attr("height", ph);
}

// dashed hour lines
svg.append("g").selectAll("line").data(d3.range(1, 24)).join("line")
  .attr("x1", d => x(d)).attr("x2", d => x(d))
  .attr("y1", panelTop(0)).attr("y2", panelTop(6))
  .attr("stroke", "#000").attr("stroke-width", 1).attr("stroke-dasharray", "8,6");

// dotted reference lines
const dotted = [[y3, 1], [y3, 0], [y4, 1], [y4, 0], [y5, 0], [y6, 0]];
svg.append("g").selectAll("line").data(dotted).join("line")
  .attr("x1", left).attr("x2", right)
  .attr("y1", d => d[0](d[1])).attr("y2", d => d[0](d[1]))
  .attr("stroke", "#000").attr("stroke-width", 1).attr("stroke-dasharray", "1.5,3");

// Bz zero line
svg.append("line").attr("x1", left).attr("x2", right)
  .attr("y1", y2(0)).attr("y2", y2(0)).attr("stroke", "#000");

// scatter panels
svg.append("g").attr("clip-path", "url(#clip0)")
  .selectAll("circle").data(density).join("circle")
  .attr("cx", d => x(d[0])).attr("cy", d => y1(d[1])).attr("r", 4.6).attr("fill", "#000");
svg.append("g").attr("clip-path", "url(#clip1)")
  .selectAll("circle").data(bz).join("circle")
  .attr("cx", d => x(d[0])).attr("cy", d => y2(d[1])).attr("r", 4.6).attr("fill", "#000");

// line panels
function trace(data, ys, clip, color, width) {
  const line = d3.line().x(d => x(d[0])).y(d => ys(d[1]));
  svg.append("path").datum(data).attr("clip-path", `url(#clip${clip})`)
    .attr("d", line).attr("fill", "none").attr("stroke", color)
    .attr("stroke-width", width).attr("stroke-linejoin", "miter");
}
trace(ezBlue, y3, 2, "#10109a", 1.2);
trace(ez, y3, 2, "#000", 1.5);
trace(jz, y4, 3, "#000", 1.3);
trace(bx, y6, 5, "#000", 1.6);
trace(by, y6, 5, "#0000ff", 1.6);

// frames and separators
const frame = svg.append("g").attr("stroke", "#000").attr("stroke-width", 1.2);
frame.append("line").attr("x1", left).attr("x2", left).attr("y1", panelTop(0)).attr("y2", panelTop(6));
frame.append("line").attr("x1", right).attr("x2", right).attr("y1", panelTop(0)).attr("y2", panelTop(6));
d3.range(0, 7).forEach(i => {
  frame.append("line").attr("x1", i >= 3 ? 50 : left).attr("x2", right)
    .attr("y1", panelTop(i)).attr("y2", panelTop(i));
});

// left ticks for the line panels
const sideTicks = [[y3, 1], [y3, 0], [y4, 1], [y4, 0], [y5, 0], [y6, 0]];
frame.selectAll(".side").data(sideTicks).join("line").attr("class", "side")
  .attr("x1", 50).attr("x2", 70)
  .attr("y1", d => d[0](d[1])).attr("y2", d => d[0](d[1]));

// seconds ticks (every 5000 s) on the scatter panels
const secTicks = d3.range(5000, 86400, 5000).map(s => s / 3600);
[[panelTop(0), 5], [panelTop(1), -5], [panelTop(1), 5], [panelTop(2), -5]].forEach(([yy, len]) => {
  frame.append("g").selectAll("line").data(secTicks).join("line")
    .attr("x1", d => x(d)).attr("x2", d => x(d)).attr("y1", yy).attr("y2", yy + len);
});

// y axes for scatter panels
function yAxes(ys, major, minor) {
  const gl = svg.append("g").attr("transform", `translate(${left},0)`);
  gl.call(d3.axisLeft(ys).tickValues(major).tickSize(-10).tickPadding(5).tickFormat(d3.format("d")));
  gl.append("g").call(d3.axisLeft(ys).tickValues(minor).tickSize(-5).tickFormat(""));
  const gr = svg.append("g").attr("transform", `translate(${right},0)`);
  gr.call(d3.axisRight(ys).tickValues(major).tickSize(-16).tickFormat(""));
  gr.append("g").call(d3.axisRight(ys).tickValues(minor).tickSize(-8).tickFormat(""));
  [gl, gr].forEach(g => {
    g.selectAll(".domain").remove();
    g.selectAll("line").attr("stroke", "#000");
    g.selectAll("text").attr("font-size", 13).attr("font-weight", "bold").attr("fill", "#000");
  });
}
yAxes(y1, densityTicks, d3.range(4, 33, 1));
yAxes(y2, bzTicks, d3.range(-10, 4.6, 0.5));

// bottom time axis
const gx = svg.append("g").attr("transform", `translate(0,${panelTop(6)})`);
gx.call(d3.axisBottom(x).tickValues(d3.range(0, 25)).tickSize(-8).tickPadding(12)
  .tickFormat((d, i) => hourLabels[i]));
gx.append("g").call(d3.axisBottom(x).tickValues(d3.range(0, 24.01, 1 / 6)).tickSize(-4).tickFormat(""));
gx.selectAll(".domain").remove();
gx.selectAll("line").attr("stroke", "#000");
gx.selectAll("text").attr("font-size", 12).attr("font-weight", "bold").attr("fill", "#000");

svg.append("text").attr("x", x(12)).attr("y", 992).attr("text-anchor", "middle")
  .attr("font-size", 11).attr("font-weight", "bold").text("UT");

// title
svg.append("text").attr("x", 100).attr("y", 22).attr("font-size", 16)
  .attr("textLength", 227).attr("lengthAdjust", "spacingAndGlyphs").text(title);

// rotated side labels
function vlabel(tx, ty, txt, size, anchor, weight) {
  svg.append("text").attr("transform", `translate(${tx},${ty}) rotate(-90)`)
    .attr("text-anchor", anchor).attr("font-size", size)
    .attr("font-weight", weight || "normal").attr("fill", "#000").text(txt);
}
vlabel(27, 120, "denclty,n/cc", 11, "middle");
vlabel(25, 273, "Bz,nT", 11, "middle");
vlabel(39, 326, "380 V/m", 14, "middle");
vlabel(39, 457, "5.5e-011 A/m^2", 14, "middle");
vlabel(39, 789, "178 nT", 14, "middle");

vlabel(79, 400, "EZ", 13, "end", "bold");
vlabel(79, 450, "EZ", 13, "end", "bold");
vlabel(80, 552, "JZ", 13, "end", "bold");
vlabel(80, 603, "JY", 13, "end", "bold");
vlabel(80, 884, "X,Y", 13, "end", "bold");
</script>
</body>
</html>
